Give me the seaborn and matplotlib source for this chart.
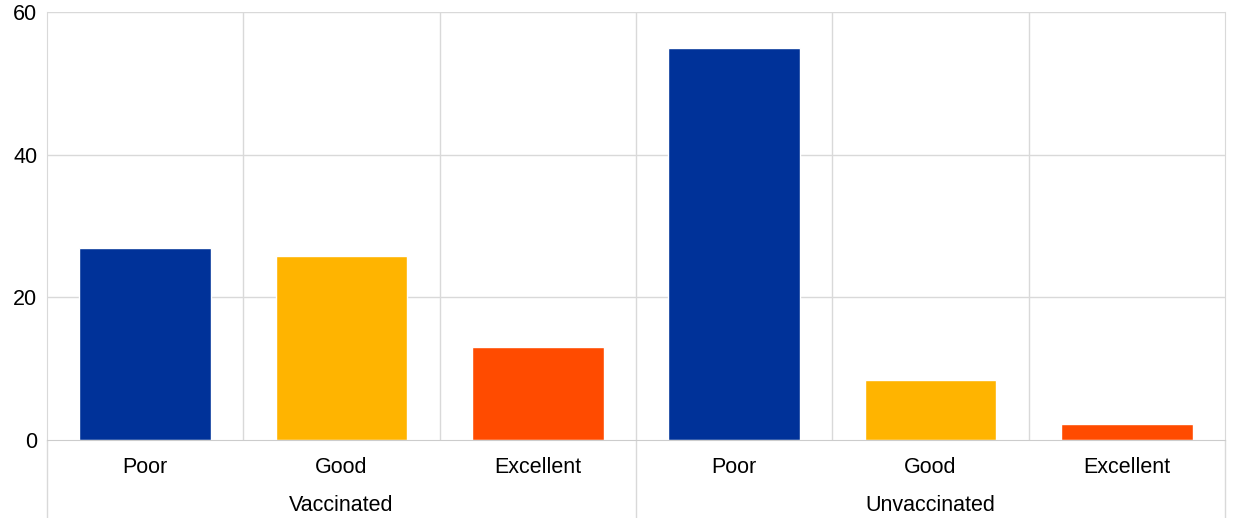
import pandas as pd
import numpy as np
import matplotlib
matplotlib.use('Agg')
import matplotlib.pyplot as plt
import seaborn as sns

# Data
groups = ['Vaccinated', 'Unvaccinated']
ratings = ['Poor', 'Good', 'Excellent']
vaccinated = [26.9, 25.8, 13.0]
unvaccinated = [55.0, 8.4, 2.2]
colors = ['#003299', '#FFB400', '#FF4B00']

data = pd.DataFrame({
    'group': np.repeat(groups, len(ratings)),
    'rating': ratings * len(groups),
    'value': vaccinated + unvaccinated,
})
data['slot'] = data['group'] + ' ' + data['rating']

sns.set_style('white')
plt.rcParams['font.family'] = ['Liberation Sans', 'DejaVu Sans']
plt.rcParams['text.color'] = 'black'
plt.rcParams['xtick.color'] = 'black'
plt.rcParams['ytick.color'] = 'black'

fs = 15.5
fig = plt.figure(figsize=(12.4, 5.18), dpi=100)
ax = fig.add_axes([47 / 1240, 1 - 440 / 518, (1225 - 47) / 1240, (440 - 12) / 518])

sns.barplot(data=data, x='slot', y='value', hue='rating', palette=colors,
            order=list(data['slot']), hue_order=ratings, dodge=False,
            width=0.67, legend=False, ax=ax, saturation=1)

grid_col = '#d9d9d9'
ax.set_ylim(0, 60)
ax.set_xlim(-0.5, 5.5)
ax.set_yticks([0, 20, 40, 60])
ax.set_axisbelow(True)
for y in [20, 40, 60]:
    ax.axhline(y, color=grid_col, lw=1, zorder=0)
for x in np.arange(0.5, 5.5, 1.0):
    ax.axvline(x, color=grid_col, lw=1, zorder=0)

ax.spines['top'].set_visible(False)
ax.spines['left'].set_color(grid_col)
ax.spines['bottom'].set_color('#cccccc')
ax.spines['right'].set_color(grid_col)

ax.set_xticks(range(len(data)))
ax.set_xticklabels(list(data['rating']), fontsize=fs)
ax.tick_params(axis='x', length=0, pad=12, colors='black')
ax.tick_params(axis='y', length=0, pad=7, labelsize=fs, colors='black')
ax.set_xlabel('')
ax.set_ylabel('')

# group separators and group labels below the axis
trans = ax.get_xaxis_transform()
for x in [-0.5, 2.5, 5.5]:
    ax.plot([x, x], [0, -0.19], transform=trans, color=grid_col, lw=1, clip_on=False)
for i, g in enumerate(groups):
    ax.text(i * 3 + 1, -0.152, g, transform=trans, ha='center', va='center',
            fontsize=fs, color='black')

fig.savefig('out.png', dpi=100)
